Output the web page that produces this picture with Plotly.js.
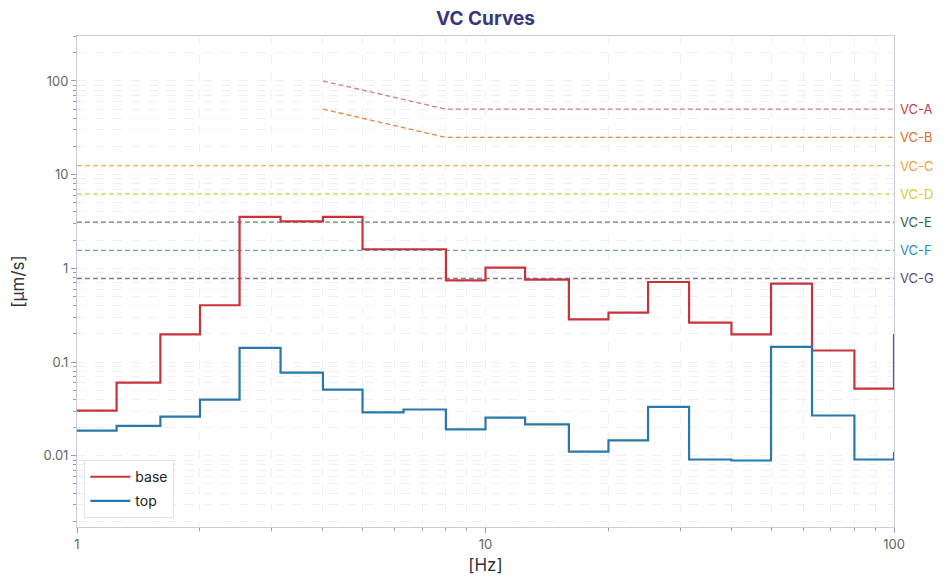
<!DOCTYPE html>
<html>
<head>
<meta charset="utf-8">
<script src="https://cdn.plot.ly/plotly-3.0.1.min.js"></script>
<style>
  html, body { margin: 0; padding: 0; background: #fff; }
  #chart { width: 949px; height: 587px; }
</style>
</head>
<body>
<div id="chart"></div>
<script>
// 1/3-octave band edges (Hz); last point closes the step at 100 Hz
const bandEdges = [1, 1.25, 1.6, 2, 2.5, 3.15, 4, 5, 6.3, 8, 10, 12.5, 16, 20, 25, 31.5, 40, 50, 63, 80, 100]

const baseValues = [0.0304, 0.0605, 0.198, 0.404, 3.55, 3.18, 3.55, 1.6, 1.6, 0.746, 1.02, 0.76,
    0.286, 0.337, 0.716, 0.264, 0.198, 0.689, 0.133, 0.0522, 0.2]
const topValues = [0.0186, 0.0209, 0.0262, 0.0398, 0.1416, 0.0773, 0.0509, 0.029, 0.0312, 0.0191, 0.0256, 0.0216,
    0.0111, 0.0146, 0.0333, 0.00913, 0.00891, 0.145, 0.0269, 0.00913, 0.011]

// Vibration criteria (µm/s)
const vcNames = ["VC-A", "VC-B", "VC-C", "VC-D", "VC-E", "VC-F", "VC-G"]
const vcFreqs = [
    [4, 8, 100],
    [4, 8, 100],
    [1, 100],
    [1, 100],
    [1, 100],
    [1, 100],
    [1, 100],
]
const vcLevels = [
    [100, 50, 50],
    [50, 25, 25],
    [12.5, 12.5],
    [6.25, 6.25],
    [3.12, 3.12],
    [1.56, 1.56],
    [0.78, 0.78],
]
const vcLineColors = ["#d67a86", "#e8853f", "#f2ad45", "#dccf35", "#578576", "#62a6d3", "#857d98"]
const vcTextColors = ["#c43d4e", "#e06a1e", "#f0a030", "#d8cc1e", "#2f5e4e", "#2b86c8", "#4f4a6e"]

const yTickVals = [0.01, 0.1, 1, 10, 100]
const yTickText = ["0.01", "0.1", "1", "10", "100"]
const xTickVals = [1, 10, 100]
const xTickText = ["1", "10", "100"]

const traces = []

vcNames.forEach((name, i) => {
    traces.push({
        x: vcFreqs[i],
        y: vcLevels[i],
        type: "scatter",
        mode: "lines",
        line: { color: vcLineColors[i], width: 1.3, dash: "5px,3px" },
        name: name,
        showlegend: false,
        hoverinfo: "skip",
    })
})

traces.push({
    x: bandEdges,
    y: baseValues,
    type: "scatter",
    mode: "lines",
    line: { color: "#c8333b", width: 2.2, shape: "hv" },
    name: "base",
    legendgroup: "base",
})
traces.push({
    x: bandEdges,
    y: topValues,
    type: "scatter",
    mode: "lines",
    line: { color: "#2878ab", width: 2.2, shape: "hv" },
    name: "top",
    legendgroup: "top",
})

const annotations = vcNames.map((name, i) => ({
    x: 1,
    xref: "paper",
    y: Math.log10(vcLevels[i][vcLevels[i].length - 1]),
    yref: "y",
    text: name,
    showarrow: false,
    xanchor: "left",
    xshift: 4,
    font: { color: vcTextColors[i], size: 13 },
}))

const gridColor = "#f0f0f4"

const layout = {
    width: 949,
    height: 587,
    paper_bgcolor: "#ffffff",
    plot_bgcolor: "#ffffff",
    font: { family: "Inter, sans-serif", color: "#555", size: 13 },
    title: {
        text: "<b>VC Curves</b>",
        xref: "paper",
        x: 0.5,
        y: 0.98,
        yanchor: "top",
        font: { size: 19, color: "#37377e" },
    },
    margin: { l: 77, r: 55, t: 36, b: 60 },
    showlegend: true,
    legend: {
        x: 0.009,
        y: 0.018,
        xanchor: "left",
        yanchor: "bottom",
        bgcolor: "#ffffff",
        bordercolor: "#e2e2ea",
        borderwidth: 1,
        font: { size: 14, color: "#222" },
        tracegroupgap: 3,
        itemwidth: 40,
    },
    xaxis: {
        type: "log",
        range: [0, 2],
        tickvals: xTickVals,
        ticktext: xTickText,
        ticks: "outside",
        ticklen: 5,
        tickcolor: "#9a9ab0",
        tickfont: { size: 13, color: "#666" },
        showgrid: true,
        gridcolor: gridColor,
        griddash: "dash",
        showline: true,
        linecolor: "#c8cbdc",
        mirror: true,
        zeroline: false,
        minor: {
            dtick: "D1",
            ticks: "outside",
            ticklen: 3,
            tickcolor: "#9a9ab0",
            showgrid: true,
            gridcolor: gridColor,
            griddash: "dash",
        },
        title: { text: "[Hz]", font: { size: 17, color: "#333" }, standoff: 8 },
    },
    yaxis: {
        type: "log",
        range: [-2.76, 2.48],
        tickvals: yTickVals,
        ticktext: yTickText,
        ticks: "outside",
        ticklen: 5,
        tickcolor: "#9a9ab0",
        tickfont: { size: 13, color: "#666" },
        showgrid: true,
        gridcolor: gridColor,
        griddash: "dash",
        showline: true,
        linecolor: "#c8cbdc",
        mirror: true,
        zeroline: false,
        minor: {
            dtick: "D1",
            ticks: "outside",
            ticklen: 3,
            tickcolor: "#9a9ab0",
            showgrid: true,
            gridcolor: gridColor,
            griddash: "dash",
        },
        title: { text: "[µm/s]", font: { size: 17, color: "#333" }, standoff: 14 },
    },
    annotations: annotations,
}

Plotly.newPlot("chart", traces, layout, { displayModeBar: false, staticPlot: true })
</script>
</body>
</html>
